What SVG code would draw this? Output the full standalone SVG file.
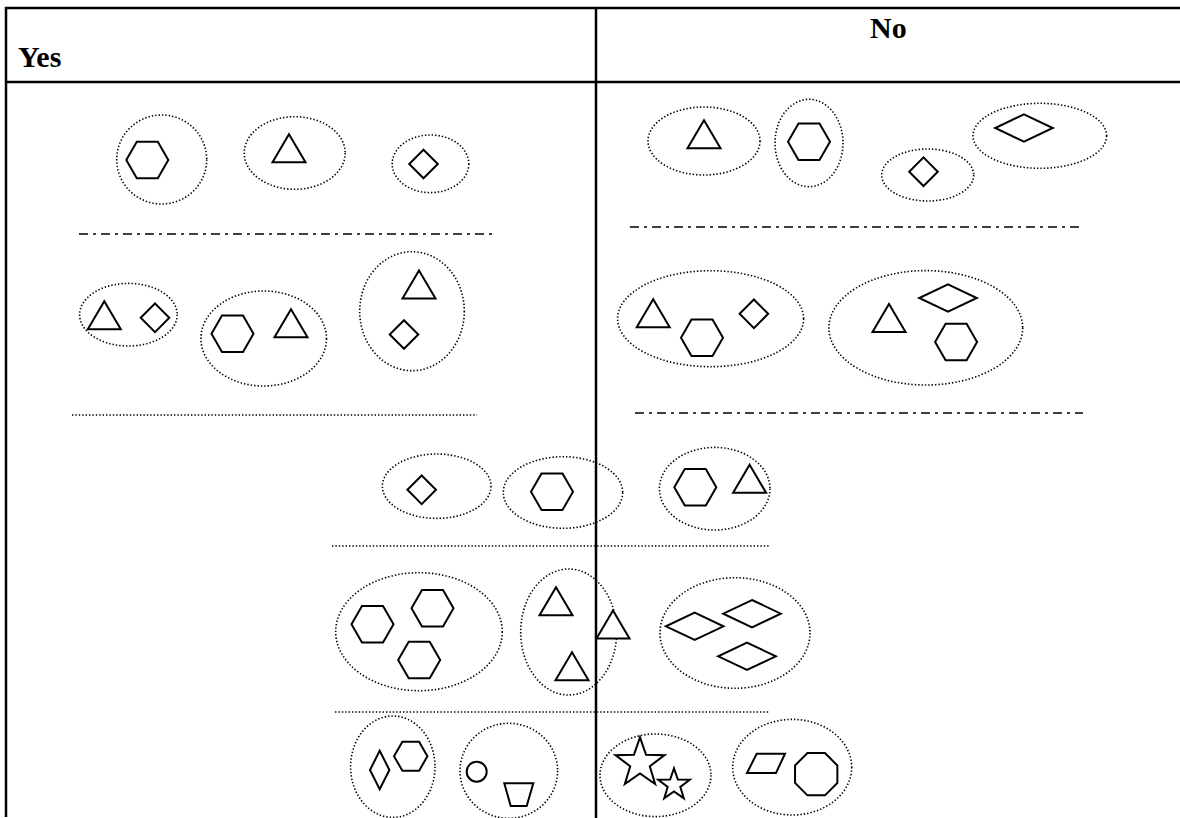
<svg xmlns="http://www.w3.org/2000/svg" width="1180" height="818" viewBox="0 0 1180 818">
<style>
.grid{stroke:#000;stroke-width:2.5;fill:none}
.grp{fill:none;stroke:#000;stroke-width:1.6;stroke-dasharray:1.4 2}
.dot{fill:none;stroke:#000;stroke-width:1.6;stroke-dasharray:1.4 2}
.dd{fill:none;stroke:#000;stroke-width:1.6;stroke-dasharray:9 5 3 5}
.sh{fill:#fff;stroke:#000;stroke-width:2;stroke-linejoin:miter}
.hd{font-family:"Liberation Serif","Times New Roman",serif;font-weight:bold;font-size:30px;fill:#000}
</style>
<defs>
<polygon id="hex" points="-21,0 -10.5,-18.2 10.5,-18.2 21,0 10.5,18.2 -10.5,18.2"/>
<polygon id="tri" points="0,-14 16.5,14 -16.5,14"/>
<polygon id="dia" points="0,-14.3 14.3,0 0,14.3 -14.3,0"/>
<polygon id="fdia" points="0,-13.7 28.8,0 0,13.7 -28.8,0"/>
</defs>
<rect width="1180" height="818" fill="#fff"/>
<g id="table">
<line class="grid" x1="5" y1="8" x2="1180" y2="8"/>
<line class="grid" x1="5" y1="82" x2="1180" y2="82"/>
<line class="grid" x1="6" y1="7" x2="6" y2="817"/>
<line class="grid" x1="596" y1="7" x2="596" y2="818"/>
<text class="hd" x="18" y="67">Yes</text>
<text class="hd" x="870" y="38">No</text>
</g>
<g id="separators">
<line class="dd" x1="79" y1="234" x2="492" y2="234"/>
<line class="dd" x1="630" y1="227" x2="1084" y2="227"/>
<line class="dot" x1="72" y1="415" x2="477" y2="415"/>
<line class="dd" x1="635" y1="413" x2="1083" y2="413"/>
<line class="dot" x1="332" y1="546" x2="769" y2="546"/>
<line class="dot" x1="335" y1="712" x2="770" y2="712"/>
</g>
<g id="yes-row1">
<g id="y1a"><ellipse class="grp" cx="161.7" cy="159.5" rx="45" ry="44.5"/><use href="#hex" class="sh" transform="translate(147.3,160)"/></g>
<g id="y1b"><ellipse class="grp" cx="294.7" cy="153" rx="50.5" ry="36.3"/><use href="#tri" class="sh" transform="translate(289,148.3)"/></g>
<g id="y1c"><ellipse class="grp" cx="430.5" cy="163.8" rx="38.3" ry="28.8"/><use href="#dia" class="sh" transform="translate(423.5,164)"/></g>
</g>
<g id="no-row1">
<g id="n1a"><ellipse class="grp" cx="704" cy="141" rx="56" ry="34"/><use href="#tri" class="sh" transform="translate(704,134.2)"/></g>
<g id="n1b"><ellipse class="grp" cx="809" cy="143" rx="34" ry="43.7"/><use href="#hex" class="sh" transform="translate(809,141.7)"/></g>
<g id="n1c"><ellipse class="grp" cx="927.7" cy="175" rx="46" ry="26"/><use href="#dia" class="sh" transform="translate(923.5,171.7)"/></g>
<g id="n1d"><ellipse class="grp" cx="1039.8" cy="135.8" rx="66.8" ry="32.5"/><use href="#fdia" class="sh" transform="translate(1024,128)"/></g>
</g>
<g id="yes-row2">
<g id="y2a"><ellipse class="grp" cx="128.4" cy="314.7" rx="48.8" ry="31.3"/><use href="#tri" class="sh" transform="translate(104.3,315.3)"/><use href="#dia" class="sh" transform="translate(155,317.8)"/></g>
<g id="y2b"><ellipse class="grp" cx="263.7" cy="338.5" rx="62.8" ry="47.5"/><use href="#hex" class="sh" transform="translate(232.5,333.7)"/><use href="#tri" class="sh" transform="translate(291,323.3)"/></g>
<g id="y2c"><ellipse class="grp" cx="412" cy="311.2" rx="52.3" ry="59.5"/><use href="#tri" class="sh" transform="translate(419,284.5)"/><use href="#dia" class="sh" transform="translate(404,334.5)"/></g>
</g>
<g id="no-row2">
<g id="n2a"><ellipse class="grp" cx="710.6" cy="318.7" rx="93" ry="48"/><use href="#tri" class="sh" transform="translate(653.2,313.2)"/><use href="#hex" class="sh" transform="translate(702,337.7)"/><use href="#dia" class="sh" transform="translate(753.9,313.8)"/></g>
<g id="n2b"><ellipse class="grp" cx="925.8" cy="327.8" rx="96.9" ry="57.2"/><use href="#tri" class="sh" transform="translate(889,318)"/><use href="#fdia" class="sh" transform="translate(948,298)"/><use href="#hex" class="sh" transform="translate(956.1,342)"/></g>
</g>
<g id="row3">
<g id="r3a"><ellipse class="grp" cx="436.7" cy="486.2" rx="54.3" ry="32.2"/><use href="#dia" class="sh" transform="translate(421.7,489.8)"/></g>
<g id="r3b"><ellipse class="grp" cx="563" cy="492.5" rx="59.7" ry="35.8"/><use href="#hex" class="sh" transform="translate(552,491.7)"/></g>
<g id="r3c"><ellipse class="grp" cx="714.7" cy="488.7" rx="55.3" ry="41.3"/><use href="#hex" class="sh" transform="translate(695.3,487.3)"/><use href="#tri" class="sh" transform="translate(749.6,478.8)"/></g>
</g>
<g id="row4">
<g id="r4a"><ellipse class="grp" cx="419" cy="631.7" rx="83.3" ry="59"/><use href="#hex" class="sh" transform="translate(372.5,624.3)"/><use href="#hex" class="sh" transform="translate(432.5,608.3)"/><use href="#hex" class="sh" transform="translate(419.2,660)"/></g>
<g id="r4b"><ellipse class="grp" cx="568.7" cy="632" rx="48" ry="63"/><use href="#tri" class="sh" transform="translate(556,601.2)"/><use href="#tri" class="sh" transform="translate(613,624.5)"/><use href="#tri" class="sh" transform="translate(572,666.2)"/></g>
<g id="r4c"><ellipse class="grp" cx="735" cy="633" rx="75" ry="55.3"/><use href="#fdia" class="sh" transform="translate(694.7,626.3)"/><use href="#fdia" class="sh" transform="translate(752,613.7)"/><use href="#fdia" class="sh" transform="translate(747,656.3)"/></g>
</g>
<g id="row5">
<g id="r5a"><ellipse class="grp" cx="392.8" cy="766.7" rx="42.2" ry="50.7"/><polygon class="sh" points="379.7,750.7 389.4,770 379.7,789.3 370,770"/><polygon class="sh" points="394,756.2 402.4,741.7 419.1,741.7 427.4,756.2 419.1,770.7 402.4,770.7"/></g>
<g id="r5b"><ellipse class="grp" cx="508.8" cy="770.8" rx="48.8" ry="47.5"/><circle class="sh" cx="476.7" cy="771.7" r="10"/><polygon class="sh" points="504.3,783.3 533.3,783.3 526.7,806 510.7,806"/></g>
<g id="r5c"><ellipse class="grp" cx="655.5" cy="775.3" rx="55.5" ry="41.3"/><polygon class="sh" points="640,737.3 646.05,754.77 664.54,755.13 649.8,766.28 655.17,783.97 640,773.4 624.83,783.97 630.2,766.28 615.46,755.13 633.95,754.77"/><polygon class="sh" points="674,768.3 677.9,779.53 689.79,779.77 680.32,786.95 683.76,798.33 674,791.54 664.24,798.33 667.68,786.95 658.21,779.77 670.1,779.53"/></g>
<g id="r5d"><ellipse class="grp" cx="792.2" cy="767.2" rx="59.5" ry="47.8"/><polygon class="sh" points="756.7,753.7 785,753.7 776,773 747,773"/><polygon class="sh" points="837.36,782.96 824.96,795.36 807.44,795.36 795.04,782.96 795.04,765.44 807.44,753.04 824.96,753.04 837.36,765.44"/></g>
</g>
</svg>
